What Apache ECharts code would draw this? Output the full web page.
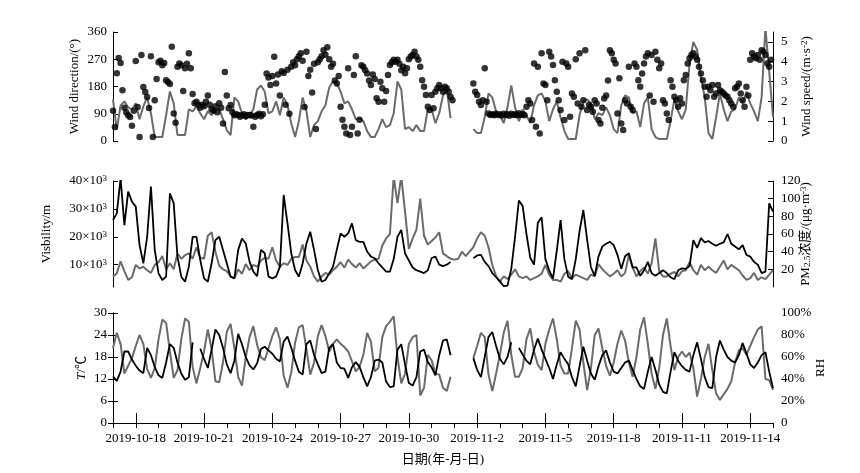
<!DOCTYPE html>
<html>
<head>
<meta charset="utf-8">
<script src="https://cdn.jsdelivr.net/npm/echarts@6/dist/echarts.min.js"></script>
<style>
  html, body { margin: 0; padding: 0; background: #fff; }
  #chart { width: 860px; height: 473px; }
</style>
</head>
<body>
<div id="chart"></div>
<script>
// time axis: hours since 2019-10-17 00:00; lines sampled every 4 h, wind direction every 2 h
const lineStep = 4
const dirStep = 2
const totalHours = 29 * 24
const dayTicks = Array.from({ length: 30 }, (_, i) => i * 24)
const dateTicks = [24, 96, 168, 240, 312, 384, 456, 528, 600, 672]
const dateLabels = ['2019-10-18', '2019-10-21', '2019-10-24', '2019-10-27', '2019-10-30', '2019-11-2', '2019-11-5', '2019-11-8', '2019-11-11', '2019-11-14']

// wind direction (deg), 2-hourly
const windDir = [
  100, 46, 224, 274, 258, 168, 110, 95, 85, 79, 50, 100,
  264, 112, 13, 284, 178, 162, 145, 109, 280, 13, 135, 205,
  260, 265, 250, 258, 201, 195, 188, 311, 91, 60, 245, 256,
  250, 165, 240, 255, 290, 240, 155, 125, 130, 120, 110, 120,
  115, 130, 150, 120, 105, 100, 115, 95, 125, 110, 58, 228,
  150, 108, 119, 95, 85, 88, 86, 80, 85, 88, 82, 86,
  86, 84, 47, 80, 86, 90, 82, 88, 120, 223, 210, 185,
  215, 278, 190, 220, 150, 230, 225, 120, 235, 90, 245, 260,
  250, 270, 280, 290, 265, 112, 295, 215, 235, 160, 255, 40,
  260, 270, 280, 300, 285, 310, 270, 245, 255, 200, 190, 215,
  113, 70, 47, 25, 240, 20, 47, 218, 280, 25, 70, 250,
  245, 234, 223, 200, 185, 220, 205, 141, 130, 196, 174, 130,
  165, 218, 251, 260, 268, 262, 268, 255, 234, 245, 224, 240,
  270, 279, 284, 295, 279, 268, 245, 201, 179, 152, 113, 102,
  152, 108, 163, 174, 185, 174, 163, 179, 174, 163, 146, 135,
  null, null, null, null, null, null, null, null, null, null, 190, 163,
  152, 130, 119, 135, 240, 130, 91, 86, 88, 85, 90, 86,
  88, 84, 90, 86, 88, 83, 90, 86, 88, 85, 92, 86,
  88, 85, 113, 135, 124, 69, 256, 47, 245, 25, 290, 190,
  185, 135, 295, 279, 251, 201, 163, 135, 102, 262, 69, 256,
  245, 80, 157, 146, 270, 124, 290, 113, 135, 300, 102, 120,
  113, 97, 135, 124, 69, 58, 110, 140, 150, 200, 300, 290,
  268, 256, 91, 207, 58, 36, 135, 124, 245, 113, 102, 256,
  245, 201, 179, 223, 256, 279, 290, 150, 284, 130, 295, 268,
  240, 256, 135, 124, 91, 69, 201, 179, 146, 135, 113, 141,
  124, 201, 218, 256, 273, 284, 290, 279, 268, 245, 223, 201,
  179, 146, 179, 168, 185, 146, 157, 185, 168, 163, 157, 150,
  146, 135, 124, 113, 174, 179, 190, 157, 135, 113, 179, 150,
  268, 290, 279, 273, 284, 268, 300, 295, 284, 256, 245, 268,
]

// wind speed (m/s), 4-hourly
const windSpeed = [
  2.1, 0.56, 1.8, 2.0, 1.7, 1.6,
  1.9, 1.1, 1.75, 2.2, 1.4, 0.2,
  0.2, 0.2, 1.3, 2.5, 1.9, 0.3,
  0.3, 0.3, 1.6, 1.5, 1.75, 1.4,
  1.1, 1.5, 1.3, 1.6, 1.6, 1.1,
  0.55, 0.3, 2.2, 2.0, 1.4, 1.1,
  1.3, 1.6, 2.6, 2.8, 2.5, 1.4,
  1.5, 2.0, 1.3, 2.2, 1.8, 0.9,
  0.2, 1.0, 2.2, 1.5, 0.2, 0.8,
  1.0, 1.5, 1.8, 2.7, 3.0, 2.9,
  2.5, 1.9, 2.0, 1.6, 1.1, 1.15,
  1.0, 0.5, 0.2, 0.2, 0.6, 1.1,
  0.7, 0.8, 1.4, 3.0, 2.6, 0.6,
  0.7, 0.5, 0.8, 0.5, 0.5, 1.6,
  1.6, 0.9, 1.4, 2.3, 2.6, 1.15,
  null, null, null, null, null, 0.6,
  0.4, 0.4, 1.2, 2.4, 2.2, 1.5,
  1.3, 0.9, 1.7, 2.8, 1.7, 1.0,
  1.6, 1.3, 0.9, 1.8, 2.3, 2.4,
  2.0, 1.0, 1.6, 2.0, 1.2, 0.5,
  0.1, 0.1, 0.1, 1.3, 2.0, 2.1,
  1.9, 1.1, 1.4, 1.3, 1.7, 1.3,
  0.6, 0.4, 1.8, 2.3, 2.2, 1.4,
  1.5, 0.7, 1.9, 2.2, 0.6, 0.2,
  0.1, 0.1, 0.1, 1.0, 2.1, 1.5,
  1.1, 1.6, 3.9, 5.0, 4.6, 3.2,
  2.2, 0.4, 0.1, 1.2, 2.4, 1.6,
  1.0, 1.5, 1.6, 2.2, 1.9, 2.5,
  1.9, 1.5, 1.0, 2.2, 5.7, 3.5,
  1.2,
]

// visibility (x10^3 m), 4-hourly
const visibility = [
  26, 28.4, 41, 24.2, 36.2, 32.6,
  30.8, 17, 10.5, 20, 38, 15.3,
  6.9, 4.5, 5.7, 35.6, 32, 12.9,
  5.7, 3.9, 9.3, 20, 20, 11.7,
  5.1, 3.9, 10.5, 18.8, 20, 15.3,
  10.5, 5.7, 5.1, 15.3, 19.4, 17.6,
  11.1, 7.5, 5.9, 15.3, 14.1, 5.7,
  5.1, 5.7, 9.3, 35, 24.8, 14.1,
  8.1, 5.7, 10.5, 17.6, 21.8, 15.3,
  8.1, 3.9, 4.5, 6.9, 9.3, 15.3,
  21.2, 20, 21.2, 24.8, 18.8, 18.2,
  18.2, 14.7, 12.9, 12.3, 10.5, 9,
  7.5, 7.5, 12, 20, 22.5, 14,
  11.5, 9, 8, 7.5, 7, 8,
  12.4, 12.9, 10, 9.5, 10, 11,
  null, null, null, null, null, 12.3,
  13.3, 13.5, 11, 9.5, 7, 5.5,
  4, 2.3, 2.5, 8.5, 20, 33,
  31, 21, 12.5, 10, 25, 27,
  12, 8, 5, 15, 26, 12,
  5.7, 4.8, 12, 22, 29.6, 19,
  9, 6, 13, 16.5, 17.5, 18.2,
  17, 13.5, 8.5, 13, 14.1, 9,
  9, 6, 8, 11, 6.9, 6,
  7, 8, 7, 5.5, 4.8, 8,
  8.7, 8.5, 9.5, 18.8, 16, 19.5,
  18, 18.5, 17.5, 16.8, 17.5, 18,
  21, 17.5, 16.5, 15.5, 17, 13.5,
  12.9, 11, 10, 7, 7.5, 32,
  29,
]

// PM2.5 (ug/m3), 4-hourly
const pm25 = [
  11.7, 15.5, 29, 18, 8, 11,
  25, 21, 23, 19, 16, 25,
  28, 35, 20, 27, 20, 38,
  32, 36, 38, 32, 45, 33,
  32, 58, 62, 40, 24, 20,
  18, 12, 10, 20, 15, 26,
  19, 25, 23, 30, 33, 32,
  45, 30, 23, 27, 25, 32,
  34, 34, 48, 30, 23, 12,
  6, 12, 16, 14, 19, 23,
  28, 22, 31, 26, 22, 27,
  21, 25, 29, 31, 32, 47,
  55, 60, 125, 95, 125, 85,
  43, 55, 65, 100, 58, 48,
  52, 56, 62, 38, 35, 32,
  31, 32, 40, 35, 40, 45,
  55, 62, 58, 45, 25, 12,
  6, 12, 9, 14, 20, 12,
  10, 12, 8, 10, 12, 15,
  25, 14, 8, 8, 6, 15,
  18, 10, 14, 12, 10, 8,
  14, 12, 26, 20, 16, 12,
  15, 19, 12, 16, 36, 22,
  12, 18, 22, 15, 27, 55,
  18, 12, 12, 15, 17, 12,
  18, 19, 28, 19, 14, 25,
  19, 23, 19, 16, 23, 30,
  20, 25, 22, 19, 13, 8,
  10, 16, 8, 11, 9, 14,
  19,
]

// temperature (C), 4-hourly
const temperature = [
  12.7, 11.5, 14, 19.5, 19.5, 17.3,
  15.6, 14.3, 13.6, 20.5, 18.5, 15.3,
  13, 12.3, 16.5, 21.5, 20.5, 16.5,
  13.5, 11.8, 12.5, 22, null, 20.3,
  17.5, 15, 20, 25.5, 24, 20.5,
  16, 13.6, 17, 24.3, 21.5, 18,
  15.7, 14.6, 16.3, 20.2, 20.8, 19.8,
  18.9, 17.5, 16.8, 22.2, 23.6, 20.5,
  17, 14, 13.2, 21.5, 22.5, 18.6,
  16, 13.6, 14, 20.5, 21.5, 16.5,
  15, 14.8, 12.3, 15.2, 16.6, 15.3,
  12.5, 10, 12.5, 17, 17.3, 16.5,
  11.3, 9.8, 10, 20, 21.5, 15.9,
  10.9, 10.2, 12.5, 19.5, 20, 16.6,
  15.2, 13, 18.5, 22.5, 22.8, 18.5,
  null, null, null, null, null, 17.7,
  14.5, 12.5, 18, 23.5, 24.8, 21,
  17.5, 16, 18, 22, null, 20.5,
  18.7, 17, 16, 20, 23, 20,
  17.5, 15, 12, 16, 19.3, 17.5,
  16, 12.5, 10, 15.5, 20.8, 17,
  13.5, 11.8, 15.5, 18.5, 19.8, 16.5,
  14, 13.5, 15, 16.5, 17, 14.5,
  12, 10, 9.3, 14, 18, 14.5,
  10.5, 8.5, 8.1, 14, 19.3, 17,
  15.5, 14.5, 14, 18.5, 22, 17.5,
  12.5, 9.8, 9.5, 18, 22.5, 20,
  18, 17, 16.5, 18.5, 21.8, 19,
  16, 15, 16.5, 18.5, 19.3, 14,
  9.5,
]

// relative humidity (%), 4-hourly
const humidity = [
  68, 82, 72, 45, 52, 59,
  70, 80, 72, 49, 41, 50,
  76, 94, 91, 65, 41, 48,
  76, 95, 92, 51, 36, 50,
  65, 85, 67, 38, 37, 55,
  83, 90, 68, 42, 34, 60,
  78, 88, 71, 60, 57, 68,
  79, 87, 76, 43, 32, 46,
  73, 87, 89, 67, 44, 55,
  79, 89, 79, 65, 72, 76,
  72, 69, 65, 56, 47, 51,
  62, 82, 74, 47, 50, 78,
  88, 92, 97, 60, 36, 45,
  72, 78, 80, 25, 32, 62,
  57, 45, 44, 32, 29, 42,
  null, null, null, null, null, 59,
  70, 82, 78, 44, 29, 45,
  62, 82, 93, 62, 42, 42,
  50, 76, 86, 65, 53, 48,
  72, 85, 95, 76, 52, 45,
  45, 68, 93, 85, 55, 30,
  50, 80, 86, 68, 52, 43,
  55, 72, 84, 75, 55, 42,
  60, 85, 96, 72, 45, 31,
  50, 80, 95, 70, 48, 60,
  65, 60, 64, 50, 24, 40,
  60, 72, 48, 27, 21, 26,
  31, 38, 55, 66, 68, 62,
  70, 78, 85, 88, 40, 39,
  30,
]

const serif = "'Liberation Serif', 'Noto Sans CJK SC', serif"
const black = '#000'
const gray = '#6b6b6b'
const pairs = (vals, step) => vals.map((v, i) => [i * step, v])

const textBase = { fontFamily: serif, fontSize: 13, color: black }
const richSup = {
  sup: { fontFamily: serif, fontSize: 9, color: black, verticalAlign: 'top', lineHeight: 9 },
  sub: { fontFamily: serif, fontSize: 9, color: black, verticalAlign: 'bottom', lineHeight: 9 },
  it: { fontFamily: serif, fontSize: 13, color: black, fontStyle: 'italic' },
}

function hiddenX(gridIndex) {
  return { type: 'value', gridIndex, min: 0, max: totalHours, show: false }
}

function yAx(gridIndex, position, cfg) {
  return Object.assign({
    type: 'value',
    gridIndex,
    position,
    nameLocation: 'middle',
    nameRotate: 90,
    nameMoveOverlap: false,
    nameTextStyle: Object.assign({}, textBase, { rich: richSup }),
    axisLine: { show: true, lineStyle: { color: black, width: 1 } },
    axisTick: { show: true, inside: true, length: 5, lineStyle: { color: black } },
    axisLabel: Object.assign({}, textBase, { margin: position === 'left' ? 6 : 8 }),
    splitLine: { show: false },
  }, cfg)
}

const chart = echarts.init(document.getElementById('chart'))

chart.setOption({
  animation: false,
  backgroundColor: '#fff',
  grid: [
    { left: 113, right: 87, top: 32, height: 109 },
    { left: 113, right: 87, top: 181, height: 106 },
    { left: 113, right: 87, top: 313, height: 110 },
  ],
  xAxis: [
    hiddenX(0),
    hiddenX(1),
    {
      type: 'value',
      gridIndex: 2,
      min: 0,
      max: totalHours,
      name: '日期(年-月-日)',
      nameLocation: 'middle',
      nameGap: 30,
      nameMoveOverlap: false,
      nameTextStyle: textBase,
      axisLine: { show: true, onZero: false, lineStyle: { color: black, width: 1 } },
      axisTick: { show: true, inside: true, length: 10, customValues: dateTicks, lineStyle: { color: black } },
      axisLabel: Object.assign({}, textBase, {
        margin: 9,
        customValues: dateTicks,
        formatter: v => dateLabels[dateTicks.indexOf(v)] || '',
      }),
      splitLine: { show: false },
    },
    {
      type: 'value',
      gridIndex: 2,
      min: 0,
      max: totalHours,
      axisLine: { show: false },
      axisTick: { show: true, inside: true, length: 5, customValues: dayTicks, lineStyle: { color: black } },
      axisLabel: { show: false },
      splitLine: { show: false },
    },
  ],
  yAxis: [
    yAx(0, 'left', { min: 0, max: 360, interval: 90, name: 'Wind direction/(°)', nameGap: 32 }),
    yAx(0, 'right', {
      min: 0, max: 5.5, name: 'Wind speed/(m·s{sup|-2})', nameGap: 27,
      axisTick: { show: true, inside: true, length: 5, customValues: [0, 1, 2, 3, 4, 5], lineStyle: { color: black } },
      axisLabel: Object.assign({}, textBase, { margin: 8, customValues: [0, 1, 2, 3, 4, 5] }),
    }),
    yAx(1, 'left', {
      min: 2, max: 40, name: 'Visbility/m', nameGap: 60,
      axisTick: { show: true, inside: true, length: 5, customValues: [10, 20, 30, 40], lineStyle: { color: black } },
      axisLabel: Object.assign({}, textBase, {
        margin: 6,
        customValues: [10, 20, 30, 40],
        formatter: v => `${v}×10{sup|3}`,
        rich: richSup,
      }),
    }),
    yAx(1, 'right', {
      min: 0, max: 120, name: 'PM{sub|2.5}浓度/(μg·m{sup|-3})', nameGap: 26,
      axisTick: { show: true, inside: true, length: 5, customValues: [20, 40, 60, 80, 100, 120], lineStyle: { color: black } },
      axisLabel: Object.assign({}, textBase, { margin: 8, customValues: [20, 40, 60, 80, 100, 120] }),
    }),
    yAx(2, 'left', { min: 0, max: 30, interval: 6, name: '{it|T}/℃', nameGap: 25 }),
    yAx(2, 'right', {
      min: 0, max: 100, interval: 20, name: 'RH', nameGap: 41,
      axisLabel: Object.assign({}, textBase, { margin: 8, formatter: v => (v === 0 ? '0' : v + '%') }),
    }),
  ],
  series: [
    {
      name: 'Wind speed', type: 'line', xAxisIndex: 0, yAxisIndex: 1,
      data: pairs(windSpeed, lineStep), showSymbol: false, connectNulls: false,
      lineStyle: { color: gray, width: 2 }, z: 2,
    },
    {
      name: 'Wind direction', type: 'scatter', xAxisIndex: 0, yAxisIndex: 0,
      data: pairs(windDir, dirStep).filter(p => p[1] !== null), symbolSize: 6.5,
      itemStyle: { color: black }, z: 3,
    },
    {
      name: 'PM2.5', type: 'line', xAxisIndex: 1, yAxisIndex: 3,
      data: pairs(pm25, lineStep), showSymbol: false, connectNulls: false,
      lineStyle: { color: gray, width: 2 }, z: 2,
    },
    {
      name: 'Visibility', type: 'line', xAxisIndex: 1, yAxisIndex: 2,
      data: pairs(visibility, lineStep), showSymbol: false, connectNulls: false,
      lineStyle: { color: black, width: 1.8 }, z: 3,
    },
    {
      name: 'RH', type: 'line', xAxisIndex: 2, yAxisIndex: 5,
      data: pairs(humidity, lineStep), showSymbol: false, connectNulls: false,
      lineStyle: { color: gray, width: 2 }, z: 2,
    },
    {
      name: 'T', type: 'line', xAxisIndex: 2, yAxisIndex: 4,
      data: pairs(temperature, lineStep), showSymbol: false, connectNulls: false,
      lineStyle: { color: black, width: 1.8 }, z: 3,
    },
  ],
})
</script>
</body>
</html>
